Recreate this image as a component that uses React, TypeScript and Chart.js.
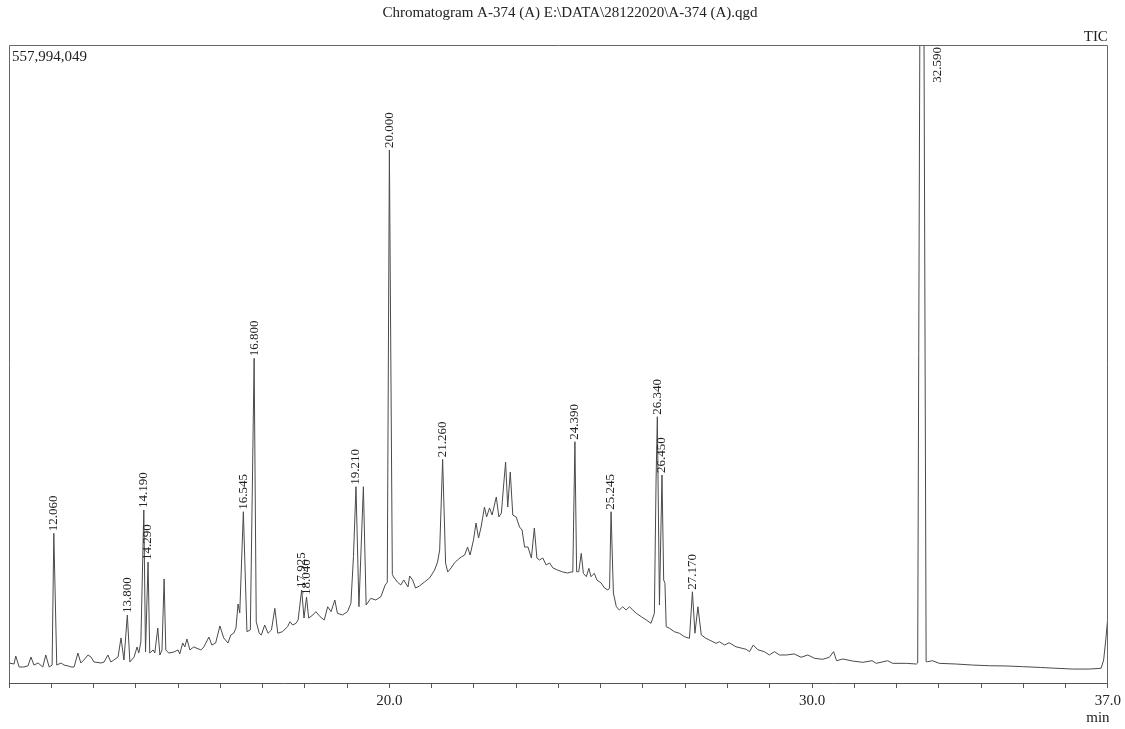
import React, { useEffect, useRef } from 'react';
import { Chart, registerables } from 'chart.js';

Chart.register(...registerables);

// Retention time (min)
const rtMin: number[] = [
  11.00, 11.12, 11.16, 11.24, 11.35, 11.45, 11.52, 11.59, 11.69, 11.80,
  11.87, 11.95, 12.02, 12.06, 12.13, 12.23, 12.30, 12.40, 12.47, 12.54,
  12.63, 12.70, 12.77, 12.87, 12.94, 13.01, 13.18, 13.25, 13.34, 13.41,
  13.48, 13.58, 13.65, 13.72, 13.80, 13.86, 13.96, 14.03, 14.07, 14.12,
  14.19, 14.23, 14.29, 14.33, 14.41, 14.45, 14.52, 14.57, 14.62, 14.67,
  14.71, 14.78, 14.90, 15.00, 15.04, 15.11, 15.16, 15.21, 15.28, 15.37,
  15.54, 15.61, 15.73, 15.80, 15.89, 15.99, 16.08, 16.18, 16.25, 16.32,
  16.37, 16.42, 16.46, 16.545, 16.63, 16.71, 16.80, 16.85, 16.92, 16.97,
  17.05, 17.13, 17.21, 17.29, 17.36, 17.47, 17.59, 17.65, 17.71, 17.79,
  17.84, 17.925, 17.98, 18.04, 18.09, 18.19, 18.26, 18.36, 18.46, 18.54,
  18.62, 18.71, 18.77, 18.89, 19.01, 19.09, 19.15, 19.21, 19.28, 19.385,
  19.45, 19.56, 19.68, 19.80, 19.90, 19.95, 20.00, 20.07, 20.10, 20.19,
  20.27, 20.34, 20.44, 20.48, 20.55, 20.62, 20.71, 20.83, 20.95, 21.07,
  21.14, 21.19, 21.26, 21.33, 21.38, 21.46, 21.54, 21.61, 21.70, 21.78,
  21.85, 21.91, 21.99, 22.05, 22.11, 22.17, 22.25, 22.30, 22.37, 22.43,
  22.53, 22.59, 22.65, 22.70, 22.75, 22.80, 22.86, 22.92, 23.00, 23.08,
  23.14, 23.20, 23.28, 23.36, 23.43, 23.49, 23.55, 23.63, 23.71, 23.79,
  23.87, 23.98, 24.10, 24.22, 24.30, 24.34, 24.39, 24.43, 24.48, 24.54,
  24.59, 24.66, 24.72, 24.77, 24.85, 24.91, 25.01, 25.09, 25.17, 25.21,
  25.245, 25.30, 25.37, 25.44, 25.52, 25.60, 25.68, 25.76, 25.84, 25.96,
  26.08, 26.19, 26.27, 26.31, 26.34, 26.39, 26.45, 26.49, 26.52, 26.55,
  26.63, 26.74, 26.86, 26.98, 27.10, 27.17, 27.23, 27.30, 27.38, 27.49,
  27.57, 27.73, 27.81, 27.93, 28.04, 28.20, 28.44, 28.52, 28.61, 28.72,
  28.87, 28.99, 29.11, 29.23, 29.39, 29.58, 29.74, 29.90, 30.06, 30.25,
  30.41, 30.51, 30.58, 30.73, 30.96, 31.20, 31.42, 31.52, 31.79, 31.91,
  32.23, 32.47, 32.50, 32.60, 32.70, 32.73, 32.85, 33.01, 33.41, 33.80,
  34.20, 34.59, 34.98, 35.40, 35.77, 36.17, 36.56, 36.84, 36.90, 36.95,
  37.00,
];

// TIC intensity (millions of counts)
const ticMillions: number[] = [
  17.5, 16.6, 23.6, 14.0, 14.0, 15.0, 22.7, 15.7, 17.5, 14.0,
  24.5, 14.0, 15.7, 130.9, 15.7, 17.5, 15.7, 14.9, 14.0, 14.0,
  26.2, 17.5, 20.1, 24.5, 22.7, 18.4, 17.5, 18.4, 24.5, 18.4,
  20.1, 22.7, 39.4, 20.1, 59.5, 18.4, 22.7, 31.5, 26.2, 35.9,
  151.3, 27.1, 105.8, 26.2, 28.9, 26.2, 48.1, 24.5, 28.9, 91.0,
  28.9, 26.2, 27.1, 28.9, 25.4, 35.0, 31.5, 38.5, 28.9, 31.5,
  28.9, 31.5, 40.2, 33.2, 35.0, 49.9, 39.4, 35.0, 42.0, 43.7,
  48.1, 69.1, 61.2, 149.8, 44.9, 46.4, 284.0, 53.6, 43.5, 42.0,
  50.7, 43.5, 46.4, 65.3, 43.5, 44.9, 49.2, 53.6, 50.7, 52.2,
  55.1, 81.3, 56.8, 75.2, 56.8, 59.5, 62.4, 58.0, 55.1, 66.7,
  62.4, 72.6, 61.0, 59.5, 62.4, 69.7, 110.5, 171.7, 66.7, 171.7,
  68.2, 74.0, 72.6, 75.5, 85.7, 88.0, 466.2, 95.0, 92.7, 88.3,
  85.7, 90.1, 84.0, 93.6, 90.1, 83.1, 84.8, 88.3, 91.8, 98.8,
  105.8, 116.3, 195.6, 105.0, 97.1, 100.6, 105.0, 107.6, 110.2, 111.9,
  118.9, 111.9, 125.1, 139.9, 126.8, 136.4, 153.9, 145.2, 153.1, 146.9,
  162.7, 145.2, 148.7, 171.4, 193.3, 153.9, 184.5, 146.9, 145.2, 136.4,
  133.8, 118.9, 118.9, 109.3, 135.6, 109.3, 107.6, 109.3, 103.2, 105.0,
  100.6, 98.8, 97.1, 96.2, 97.1, 97.0, 211.0, 97.3, 97.3, 113.4,
  95.9, 93.0, 100.3, 93.0, 95.9, 90.1, 87.5, 83.1, 81.3, 83.1,
  149.8, 78.7, 66.7, 63.8, 66.7, 63.8, 66.7, 63.8, 61.0, 58.0,
  55.1, 52.2, 61.0, 177.5, 232.9, 68.2, 181.9, 90.1, 87.2, 49.2,
  47.8, 44.9, 43.5, 40.5, 39.1, 79.8, 43.5, 66.7, 42.0, 39.1,
  37.6, 34.7, 36.1, 33.2, 35.2, 31.7, 29.5, 27.4, 33.2, 29.0,
  27.4, 24.5, 27.4, 24.5, 24.5, 25.4, 22.5, 24.5, 21.6, 20.7,
  22.5, 27.4, 19.5, 21.0, 19.2, 18.1, 19.5, 17.2, 19.5, 17.2,
  17.2, 16.6, 17.5, 1100, 18.6, 18.6, 19.5, 17.2, 16.6, 15.7,
  15.1, 14.9, 14.3, 13.6, 12.9, 12.2, 12.2, 12.9, 20.1, 37.6,
  58.0,
];

// Labelled peaks
const peakTimes: number[] = [
  12.06, 13.8, 14.19, 14.29, 16.545, 16.8, 17.925, 18.04, 19.21,
  20.0, 21.26, 24.39, 25.245, 26.34, 26.45, 27.17, 32.59,
];
const peakHeights: number[] = [
  130.9, 59.5, 151.3, 105.8, 149.8, 284.0, 81.3, 75.2, 171.7,
  466.2, 195.6, 211.0, 149.8, 232.9, 181.9, 79.8, 1100,
];

const xTickLabels: number[] = [20, 30, 37];
const xMin = 11;
const xMax = 37;
const yFullScaleMillions = 557.994049;

const titleText = 'Chromatogram A-374 (A) E:\\DATA\\28122020\\A-374 (A).qgd';
const detectorLabel = 'TIC';
const xUnit = 'min';

const SERIF = '"Liberation Serif", "Times New Roman", serif';

const annotatePlugin = {
  id: 'annotate',
  afterDraw(chart: any) {
    const { ctx, chartArea: a, scales } = chart;
    const xs = scales.x;
    const ys = scales.y;
    ctx.save();

    // frame (left, top, right)
    ctx.strokeStyle = '#666';
    ctx.lineWidth = 1;
    const L = Math.round(a.left) + 0.5;
    const R = Math.round(a.right) - 0.5;
    const T = Math.round(a.top) + 0.5;
    const B = Math.round(a.bottom);
    ctx.beginPath();
    ctx.moveTo(L, B);
    ctx.lineTo(L, T);
    ctx.lineTo(R, T);
    ctx.lineTo(R, B);
    ctx.stroke();

    ctx.fillStyle = '#222';
    ctx.font = `15px ${SERIF}`;
    ctx.textAlign = 'center';
    ctx.textBaseline = 'middle';
    ctx.fillText(titleText, 570, 13);

    ctx.textAlign = 'right';
    ctx.textBaseline = 'alphabetic';
    ctx.fillText(detectorLabel, a.right, a.top - 4);

    ctx.textAlign = 'left';
    ctx.textBaseline = 'middle';
    const fullScale = Math.round(yFullScaleMillions * 1e6).toLocaleString('en-US');
    ctx.fillText(fullScale, a.left + 3, a.top + 12);

    ctx.textAlign = 'center';
    ctx.fillText(xUnit, a.right - 10, 718);

    // peak labels
    ctx.font = `13px ${SERIF}`;
    ctx.fillStyle = '#222';
    peakTimes.forEach((t, i) => {
      const x = xs.getPixelForValue(t);
      const h = peakHeights[i];
      ctx.save();
      if (h > ys.max) {
        ctx.translate(x + 16, a.top + 2);
        ctx.rotate(-Math.PI / 2);
        ctx.textAlign = 'right';
      } else {
        const y = ys.getPixelForValue(h);
        ctx.translate(x, y - 2);
        ctx.rotate(-Math.PI / 2);
        ctx.textAlign = 'left';
      }
      ctx.textBaseline = 'middle';
      ctx.fillText(t.toFixed(3), 0, 0);
      ctx.restore();
    });

    ctx.restore();
  },
};

export default function App() {
  const canvasRef = useRef<HTMLCanvasElement | null>(null);

  useEffect(() => {
    const canvas = canvasRef.current;
    if (!canvas) return;
    const points = rtMin.map((t, i) => ({ x: t, y: ticMillions[i] }));
    const chart = new Chart(canvas, {
      type: 'line',
      data: {
        datasets: [
          {
            data: points,
            borderColor: '#4a4a4a',
            borderWidth: 1,
            pointRadius: 0,
            tension: 0,
            fill: false,
          },
        ],
      },
      options: {
        animation: false,
        responsive: false,
        devicePixelRatio: 1,
        layout: { padding: { left: 9, right: 16, top: 45, bottom: 0 } },
        plugins: {
          legend: { display: false },
          tooltip: { enabled: false },
          title: { display: false },
        },
        events: [],
        scales: {
          x: {
            type: 'linear',
            min: xMin,
            max: xMax,
            afterFit: (scale: any) => {
              scale.height = 46;
            },
            ticks: {
              stepSize: 1,
              autoSkip: false,
              maxRotation: 0,
              padding: 4,
              color: '#222',
              font: { family: SERIF, size: 15 },
              callback: (v: any) => (xTickLabels.includes(Number(v)) ? Number(v).toFixed(1) : ''),
            },
            grid: {
              display: true,
              drawOnChartArea: false,
              drawTicks: true,
              tickLength: 5,
              color: '#555',
            },
            border: { display: true, color: '#555', width: 1 },
          },
          y: {
            type: 'linear',
            display: false,
            min: 0,
            max: yFullScaleMillions,
          },
        },
      },
      plugins: [annotatePlugin],
    } as any);
    return () => chart.destroy();
  }, []);

  return (
    <div style={{ position: 'absolute', left: 0, top: 0, width: 1125, height: 729, background: '#fff' }}>
      <canvas ref={canvasRef} width={1125} height={729} style={{ display: 'block' }} />
    </div>
  );
}
